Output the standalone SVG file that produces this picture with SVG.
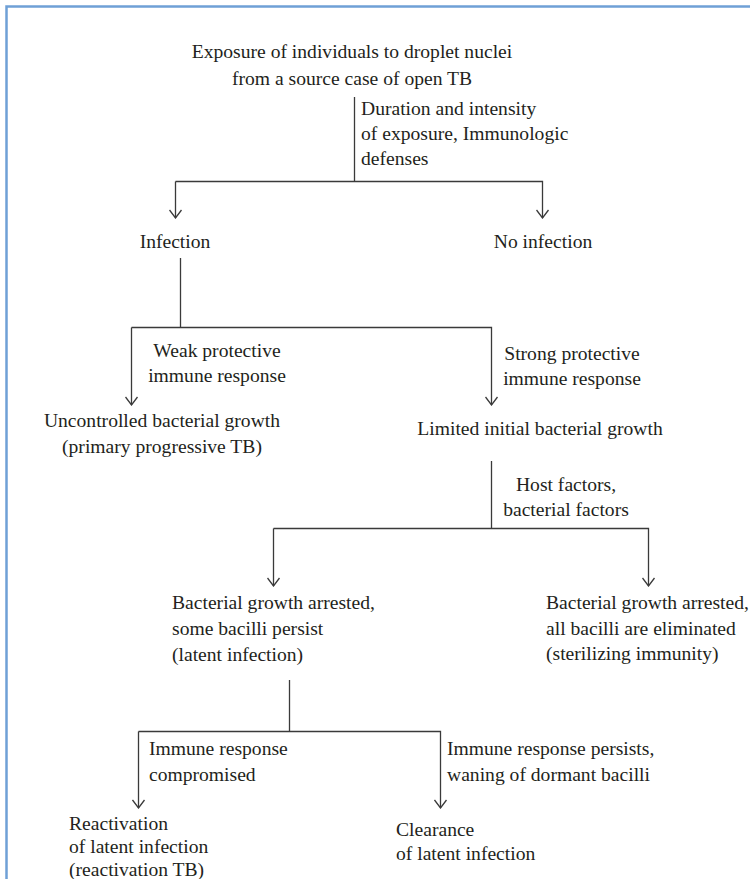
<svg xmlns="http://www.w3.org/2000/svg" width="750" height="879" viewBox="0 0 750 879">
<defs>
<style>
text{font-family:"Liberation Serif","Times New Roman",serif;font-size:19.6px;fill:#231f20}
.c{text-anchor:middle}
.ln{fill:none;stroke:#3a3a3a;stroke-width:1.3}
.ar{fill:none;stroke:#3a3a3a;stroke-width:1.3;marker-end:url(#ah)}
</style>
<marker id="ah" markerUnits="userSpaceOnUse" viewBox="0 0 10 14" refX="9" refY="7" markerWidth="10" markerHeight="14" orient="auto">
<path d="M1,1 L9,7 L1,13" fill="none" stroke="#3a3a3a" stroke-width="1.3"/>
</marker>
</defs>
<rect width="750" height="879" fill="#fff"/>
<path d="M6.5,879 V6.5 H750" fill="none" stroke="#6fa0d6" stroke-width="2.5"/>
<g id="connectors">
<path class="ln" d="M354.5,97 V181.5"/>
<path class="ar" d="M175.5,181.5 H542.5 V218"/>
<path class="ar" d="M175.5,181.5 V218"/>
<path class="ln" d="M180.5,258 V327.5"/>
<path class="ar" d="M131.5,327.5 H491.5 V405"/>
<path class="ar" d="M131.5,327.5 V405"/>
<path class="ln" d="M491.5,461 V528.5"/>
<path class="ar" d="M273.5,528.5 H648.5 V586"/>
<path class="ar" d="M273.5,528.5 V586"/>
<path class="ln" d="M289.5,680 V731.5"/>
<path class="ar" d="M138.5,731.5 H440.5 V808"/>
<path class="ar" d="M138.5,731.5 V808"/>
</g>
<g id="n-exposure">
<text class="c" x="352" y="58">Exposure of individuals to droplet nuclei</text>
<text class="c" x="352" y="85">from a source case of open TB</text>
</g>
<g id="l-duration">
<text x="361" y="115">Duration and intensity</text>
<text x="361" y="140">of exposure, Immunologic</text>
<text x="361" y="165">defenses</text>
</g>
<g id="n-infection"><text class="c" x="175" y="248">Infection</text></g>
<g id="n-noinfection"><text class="c" x="543" y="248">No infection</text></g>
<g id="l-weak">
<text class="c" x="217" y="357">Weak protective</text>
<text class="c" x="217" y="382">immune response</text>
</g>
<g id="l-strong">
<text class="c" x="572" y="360">Strong protective</text>
<text class="c" x="572" y="385">immune response</text>
</g>
<g id="n-uncontrolled">
<text class="c" x="162" y="427">Uncontrolled bacterial growth</text>
<text class="c" x="162" y="453">(primary progressive TB)</text>
</g>
<g id="n-limited"><text class="c" x="540" y="435">Limited initial bacterial growth</text></g>
<g id="l-host">
<text class="c" x="566" y="491">Host factors,</text>
<text class="c" x="566" y="516">bacterial factors</text>
</g>
<g id="n-latent">
<text x="172" y="609">Bacterial growth arrested,</text>
<text x="172" y="635">some bacilli persist</text>
<text x="172" y="661">(latent infection)</text>
</g>
<g id="n-sterilizing">
<text x="546" y="609">Bacterial growth arrested,</text>
<text x="546" y="635">all bacilli are eliminated</text>
<text x="546" y="660">(sterilizing immunity)</text>
</g>
<g id="l-compromised">
<text x="149" y="755">Immune response</text>
<text x="149" y="781">compromised</text>
</g>
<g id="l-persists">
<text x="447" y="755">Immune response persists,</text>
<text x="447" y="781">waning of dormant bacilli</text>
</g>
<g id="n-reactivation">
<text x="69" y="830">Reactivation</text>
<text x="69" y="853">of latent infection</text>
<text x="69" y="876">(reactivation TB)</text>
</g>
<g id="n-clearance">
<text x="396" y="836">Clearance</text>
<text x="396" y="860">of latent infection</text>
</g>
</svg>
